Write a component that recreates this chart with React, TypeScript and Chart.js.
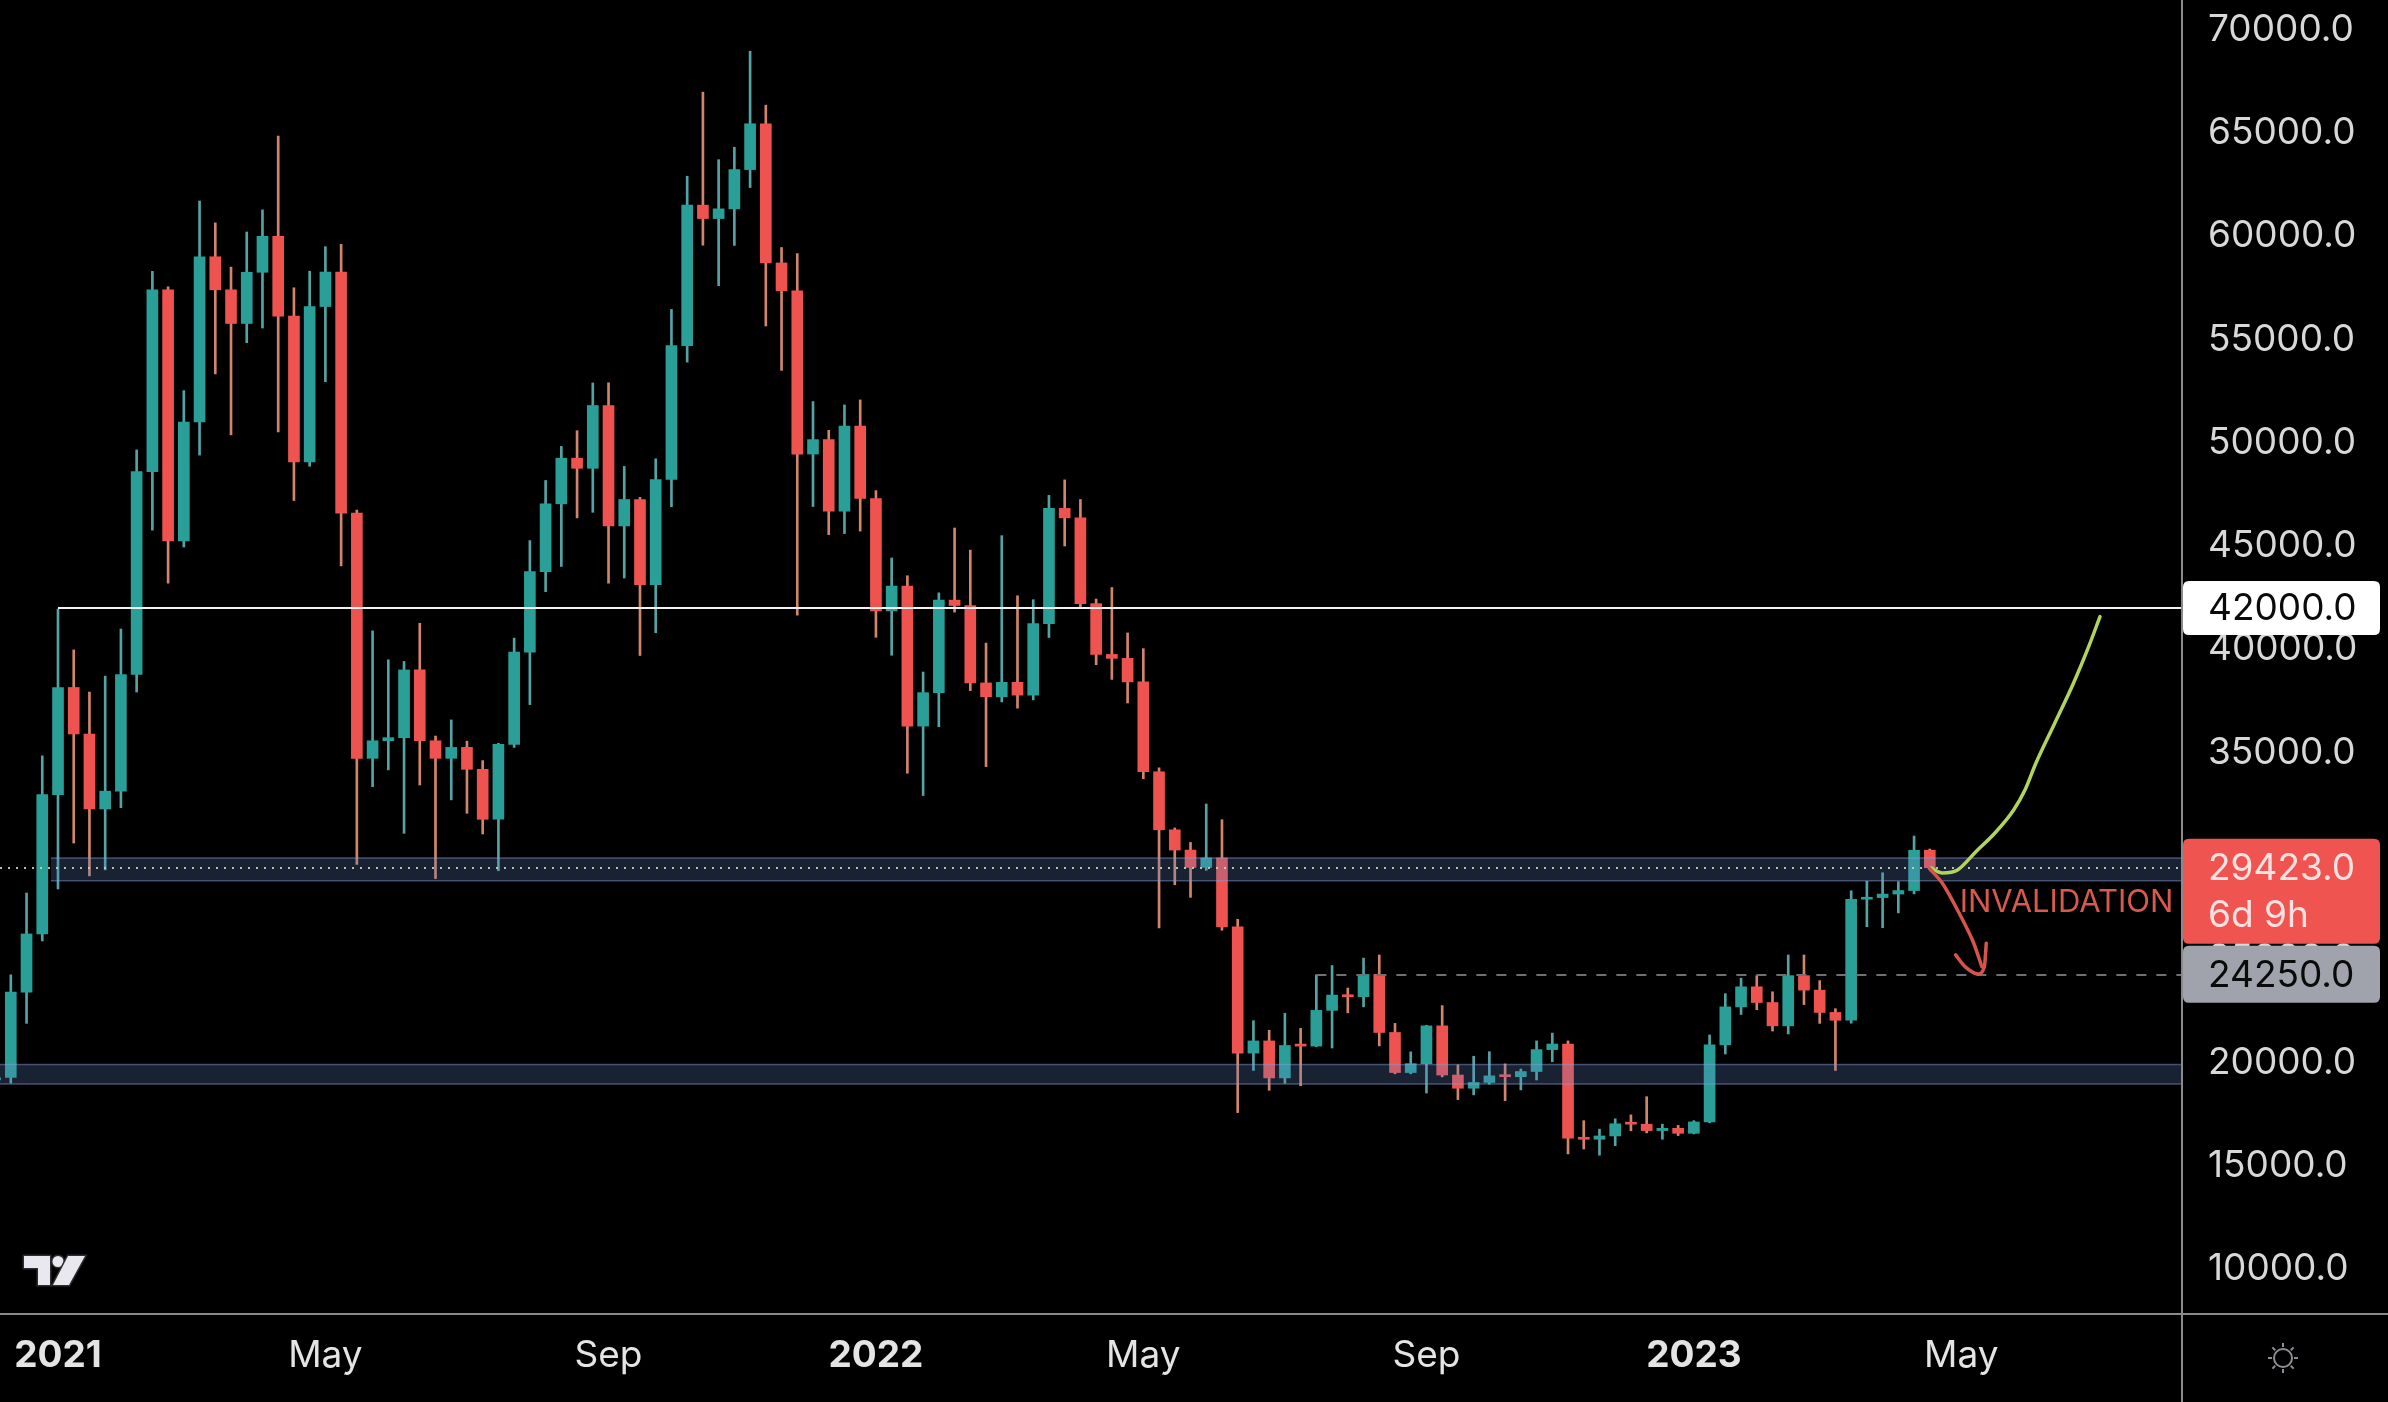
import React, { useEffect, useRef } from "react";
import { Chart, registerables } from "chart.js";

Chart.register(...registerables);

// ---------- DATA ----------
const ANCHOR_WEEK = "2020-12-14";

const weekStarts = [
  "2020-12-07", "2020-12-14", "2020-12-21", "2020-12-28",
  "2021-01-04", "2021-01-11", "2021-01-18", "2021-01-25", "2021-02-01", "2021-02-08", "2021-02-15", "2021-02-22",
  "2021-03-01", "2021-03-08", "2021-03-15", "2021-03-22", "2021-03-29", "2021-04-05", "2021-04-12", "2021-04-19",
  "2021-04-26", "2021-05-03", "2021-05-10", "2021-05-17", "2021-05-24", "2021-05-31", "2021-06-07", "2021-06-14",
  "2021-06-21", "2021-06-28", "2021-07-05", "2021-07-12", "2021-07-19", "2021-07-26", "2021-08-02", "2021-08-09",
  "2021-08-16", "2021-08-23", "2021-08-30", "2021-09-06", "2021-09-13", "2021-09-20", "2021-09-27", "2021-10-04",
  "2021-10-11", "2021-10-18", "2021-10-25", "2021-11-01", "2021-11-08", "2021-11-15", "2021-11-22", "2021-11-29",
  "2021-12-06", "2021-12-13", "2021-12-20", "2021-12-27",
  "2022-01-03", "2022-01-10", "2022-01-17", "2022-01-24", "2022-01-31", "2022-02-07", "2022-02-14", "2022-02-21",
  "2022-02-28", "2022-03-07", "2022-03-14", "2022-03-21", "2022-03-28", "2022-04-04", "2022-04-11", "2022-04-18",
  "2022-04-25", "2022-05-02", "2022-05-09", "2022-05-16", "2022-05-23", "2022-05-30", "2022-06-06", "2022-06-13",
  "2022-06-20", "2022-06-27", "2022-07-04", "2022-07-11", "2022-07-18", "2022-07-25", "2022-08-01", "2022-08-08",
  "2022-08-15", "2022-08-22", "2022-08-29", "2022-09-05", "2022-09-12", "2022-09-19", "2022-09-26", "2022-10-03",
  "2022-10-10", "2022-10-17", "2022-10-24", "2022-10-31", "2022-11-07", "2022-11-14", "2022-11-21", "2022-11-28",
  "2022-12-05", "2022-12-12", "2022-12-19", "2022-12-26",
  "2023-01-02", "2023-01-09", "2023-01-16", "2023-01-23", "2023-01-30", "2023-02-06", "2023-02-13", "2023-02-20",
  "2023-02-27", "2023-03-06", "2023-03-13", "2023-03-20", "2023-03-27", "2023-04-03", "2023-04-10", "2023-04-17",
];

const opens = [
  19150, 19270, 23400, 26220,
  32960, 38150, 35900, 32270, 33130, 38780, 48600, 57400,
  45240, 51000, 59000, 57400, 55770, 58250, 59990, 56130,
  49070, 56590, 58260, 46590, 34720, 35570, 35720, 39000,
  35570, 34720, 35250, 34190, 31770, 35400, 39860, 43760,
  47040, 49250, 48760, 51800, 45970, 47250, 43130, 48220,
  54700, 61500, 60850, 61320, 63220, 65440, 58700, 57350,
  49450, 50150, 46690, 50800,
  47300, 41860, 43060, 36280, 37900, 42380, 42120, 38370,
  37700, 38400, 37780, 41240, 46820, 46360, 42210, 39750,
  39560, 38420, 34070, 31260, 30280, 29440, 29900, 26560,
  20450, 21040, 19250, 20820, 20790, 22520, 23260, 23180,
  24260, 21450, 19510, 19940, 21770, 19390, 18750, 19030,
  19350, 19310, 19560, 20620, 20890, 16330, 16280, 16440,
  17030, 17010, 16700, 16810,
  16570, 17120, 20850, 22690, 23660, 22900, 21770, 24200,
  23500, 22420, 22040, 27900, 27980, 28150, 28320, 30270,
];

const highs = [
  19420, 24240, 28200, 34840,
  41950, 39970, 37930, 38700, 40980, 49650, 58300, 57550,
  52520, 61700, 60640, 58500, 60200, 61270, 64840, 57500,
  58300, 59490, 59600, 46740, 40890, 39490, 39410, 41260,
  35800, 36580, 35550, 34610, 35450, 40540, 45260, 48170,
  49820, 50580, 52890, 52900, 48850, 47350, 49220, 56450,
  62900, 66970, 63700, 64300, 68950, 66340, 59450, 59150,
  51990, 50600, 51830, 52070,
  47680, 44420, 43560, 38900, 42730, 45870, 44800, 40300,
  45500, 42590, 42400, 47450, 48200, 47250, 42430, 42990,
  40790, 40030, 34260, 31350, 30650, 32510, 31750, 26930,
  22020, 21560, 22380, 21650, 24240, 24690, 23600, 25050,
  25200, 21890, 20510, 21800, 22750, 19880, 20300, 20520,
  19930, 19680, 21040, 21420, 21040, 17180, 16770, 17270,
  17460, 18340, 17010, 16950,
  17180, 21330, 23330, 24080, 24200, 23420, 25200, 25200,
  23960, 22600, 28310, 28770, 29180, 28750, 30960, 30330,
];

const lows = [
  17650, 19000, 21890, 25880,
  28400, 30620, 29030, 29320, 32330, 37930, 45770, 43200,
  44950, 49400, 53330, 50380, 54840, 55550, 50520, 47200,
  48860, 52950, 44030, 29590, 33350, 34160, 31090, 33430,
  28900, 32710, 32060, 31060, 29280, 35250, 37320, 42790,
  44010, 46360, 46630, 43200, 43450, 39700, 40800, 46900,
  53900, 59560, 57600, 59550, 62350, 55650, 53500, 41650,
  46910, 45550, 45600, 45720,
  40580, 39710, 34000, 32920, 36250, 41800, 38000, 34320,
  37450, 37150, 37550, 40570, 45000, 42000, 39250, 38540,
  37400, 33730, 26510, 28600, 27990, 29300, 26400, 17570,
  19610, 18650, 18990, 18870, 20760, 20700, 22400, 22690,
  20800, 19450, 19450, 18520, 19300, 18200, 18430, 18950,
  18150, 18670, 19150, 20030, 15570, 15810, 15510, 15970,
  16690, 16590, 16280, 16460,
  16540, 17080, 20410, 22320, 22550, 21520, 21380, 22800,
  21890, 19610, 21900, 26570, 26520, 27240, 28160, 29400,
];

const closes = [
  19270, 23400, 26220, 32960,
  38150, 35900, 32270, 33130, 38780, 48600, 57400, 45240,
  51000, 59000, 57400, 55770, 58250, 59990, 56130, 49070,
  56590, 58260, 46590, 34720, 35570, 35720, 39000, 35570,
  34720, 35250, 34190, 31770, 35400, 39860, 43760, 47040,
  49250, 48760, 51800, 45970, 47250, 43130, 48220, 54700,
  61500, 60850, 61320, 63220, 65440, 58700, 57350, 49450,
  50150, 46690, 50800, 47300,
  41860, 43060, 36280, 37900, 42380, 42120, 38370, 37700,
  38400, 37780, 41240, 46820, 46360, 42210, 39750, 39560,
  38420, 34070, 31260, 30280, 29440, 29900, 26560, 20450,
  21040, 19250, 20820, 20790, 22520, 23260, 23180, 24260,
  21450, 19510, 19940, 21770, 19390, 18750, 19030, 19350,
  19310, 19560, 20620, 20890, 16330, 16280, 16440, 17030,
  17010, 16700, 16810, 16570,
  17120, 20850, 22690, 23660, 22900, 21770, 24200, 23500,
  22420, 22040, 27900, 27980, 28150, 28320, 30270, 29423,
];

const xTickDates = ["2021-01-04", "2021-05-03", "2021-09-06", "2022-01-03", "2022-05-02", "2022-09-05", "2023-01-02", "2023-05-01"];
const xTickLabels = ["2021", "May", "Sep", "2022", "May", "Sep", "2023", "May"];
const yTickValues = [10000, 15000, 20000, 25000, 30000, 35000, 40000, 45000, 50000, 55000, 60000, 65000, 70000];

const viewWeeks = [-0.687, 137.97];
const viewPrices = [7870, 71430];

// support zones (price low / high and the week they start from)
const zoneLows = [18950, 28800];
const zoneHighs = [19900, 29900];
const zoneStartWeeks = [-2, 2.55];

const resistanceLevel = 42000;
const resistanceStartWeek = 3;
const targetLevel = 24250;
const targetStartWeek = 83;
const lastPrice = 29423;
const countdownText = "6d 9h";

// hand-drawn annotations (week index, price)
const bullPathWeeks = [122.07, 122.8, 123.76, 124.93, 126.14, 127.33, 128.05, 128.75, 129.95, 131.14, 132.1, 132.82];
const bullPathPrices = [29414, 29172, 29317, 30203, 31108, 32222, 33190, 34497, 36433, 38369, 40126, 41578];
const bearShaftWeeks = [121.97, 122.8, 123.76, 124.71, 125.31];
const bearShaftPrices = [29400, 28674, 27381, 25929, 24637];
const bearHeadWeeks = [123.64, 124.24, 125.07, 125.47, 125.59];
const bearHeadPrices = [25203, 24637, 24284, 24637, 25769];
const noteText = "INVALIDATION";
const noteWeek = 123.9;
const notePrice = 27720;

// ---------- STYLE ----------
const UP = "#2a9f97";
const DOWN = "#ef5350";
const UP_WICK = "#54a4a6";
const DOWN_WICK = "#d3856b";
const FONT = "Inter, Roboto, 'DejaVu Sans', sans-serif";

const toWeek = (d: string) =>
  (Date.parse(d + "T00:00:00Z") - Date.parse(ANCHOR_WEEK + "T00:00:00Z")) / (7 * 86400000);

function drawOverlays(chart: any) {
  const { ctx, chartArea: a, scales } = chart;
  const xs = scales.x;
  const ys = scales.y;
  ctx.save();
  ctx.beginPath();
  ctx.rect(a.left, a.top, a.right - a.left, a.bottom - a.top);
  ctx.clip();

  // zones
  for (let i = 0; i < zoneLows.length; i++) {
    const top = ys.getPixelForValue(zoneHighs[i]);
    const bot = ys.getPixelForValue(zoneLows[i]);
    const left = Math.max(a.left, xs.getPixelForValue(zoneStartWeeks[i]));
    ctx.fillStyle = "rgba(98, 130, 196, 0.26)";
    ctx.fillRect(left, top, a.right - left, bot - top);
    ctx.strokeStyle = "rgba(140, 160, 215, 0.45)";
    ctx.lineWidth = 1.5;
    ctx.beginPath();
    ctx.moveTo(left, top);
    ctx.lineTo(a.right, top);
    ctx.moveTo(left, bot);
    ctx.lineTo(a.right, bot);
    ctx.stroke();
  }

  // resistance line
  const ry = Math.round(ys.getPixelForValue(resistanceLevel));
  ctx.strokeStyle = "#f2f2f2";
  ctx.lineWidth = 2;
  ctx.setLineDash([]);
  ctx.beginPath();
  ctx.moveTo(xs.getPixelForValue(resistanceStartWeek), ry);
  ctx.lineTo(a.right, ry);
  ctx.stroke();

  // target dashed line
  const ty = Math.round(ys.getPixelForValue(targetLevel));
  ctx.strokeStyle = "#707177";
  ctx.lineWidth = 2;
  ctx.setLineDash([10, 10]);
  ctx.beginPath();
  ctx.moveTo(xs.getPixelForValue(targetStartWeek), ty);
  ctx.lineTo(a.right, ty);
  ctx.stroke();

  // last price dotted line
  const py = Math.round(ys.getPixelForValue(lastPrice));
  ctx.strokeStyle = "rgba(205, 212, 172, 0.9)";
  ctx.lineWidth = 2;
  ctx.setLineDash([2, 6]);
  ctx.beginPath();
  ctx.moveTo(a.left, py);
  ctx.lineTo(a.right, py);
  ctx.stroke();
  ctx.restore();
}

function roundRect(ctx: CanvasRenderingContext2D, x: number, y: number, w: number, h: number, r: number) {
  ctx.beginPath();
  ctx.moveTo(x + r, y);
  ctx.lineTo(x + w - r, y);
  ctx.quadraticCurveTo(x + w, y, x + w, y + r);
  ctx.lineTo(x + w, y + h - r);
  ctx.quadraticCurveTo(x + w, y + h, x + w - r, y + h);
  ctx.lineTo(x + r, y + h);
  ctx.quadraticCurveTo(x, y + h, x, y + h - r);
  ctx.lineTo(x, y + r);
  ctx.quadraticCurveTo(x, y, x + r, y);
  ctx.closePath();
}

let overlaysDrawn = false;

const overlayPlugin = {
  id: "tvOverlay",
  beforeDraw(chart: any) {
    const { ctx, width, height } = chart;
    ctx.save();
    ctx.fillStyle = "#000000";
    ctx.fillRect(0, 0, width, height);
    ctx.restore();
    overlaysDrawn = false;
  },
  beforeDatasetDraw(chart: any, args: any) {
    if (overlaysDrawn) return;
    const ds = chart.data.datasets[args.index];
    if (ds.type === "line") {
      drawOverlays(chart);
      overlaysDrawn = true;
    }
  },
  afterDatasetsDraw(chart: any) {
    if (!overlaysDrawn) {
      drawOverlays(chart);
      overlaysDrawn = true;
    }
  },
  afterDraw(chart: any) {
    const { ctx, chartArea: a, scales, width, height } = chart;
    const xs = scales.x;
    const ys = scales.y;
    ctx.save();

    // note text
    ctx.font = `31px ${FONT}`;
    ctx.fillStyle = "#d8594d";
    ctx.textAlign = "left";
    ctx.textBaseline = "middle";
    ctx.fillText(noteText, xs.getPixelForValue(noteWeek), ys.getPixelForValue(notePrice));

    // separators
    ctx.strokeStyle = "#8a8a8a";
    ctx.lineWidth = 2;
    ctx.beginPath();
    ctx.moveTo(a.right + 1, 0);
    ctx.lineTo(a.right + 1, height);
    ctx.moveTo(0, a.bottom + 1);
    ctx.lineTo(width, a.bottom + 1);
    ctx.stroke();

    const bx = a.right + 2;
    const bw = 197;
    const tx = a.right + 27;
    ctx.font = `37px ${FONT}`;
    ctx.textBaseline = "middle";
    ctx.textAlign = "left";

    // resistance label
    const ry = ys.getPixelForValue(resistanceLevel);
    ctx.fillStyle = "#ffffff";
    roundRect(ctx, bx, ry - 27, bw, 54, 6);
    ctx.fill();
    ctx.fillStyle = "#0a0a0a";
    ctx.fillText(resistanceLevel.toFixed(1), tx, ry + 1);

    // target label (drawn first so the last-price box overlaps cleanly)
    const ty = ys.getPixelForValue(targetLevel);
    ctx.fillStyle = "#a0a3ab";
    roundRect(ctx, bx, ty - 29, bw, 57, 6);
    ctx.fill();
    ctx.fillStyle = "#0a0a0a";
    ctx.fillText(targetLevel.toFixed(1), tx, ty + 1);

    // last price label
    const py = ys.getPixelForValue(lastPrice);
    ctx.fillStyle = "#f05451";
    roundRect(ctx, bx, py - 29, bw, 105, 6);
    ctx.fill();
    ctx.fillStyle = "#ffe3e3";
    ctx.fillText(lastPrice.toFixed(1), tx, py + 1);
    ctx.fillText(countdownText, tx, py + 48);

    // TradingView logo
    ctx.fillStyle = "#e8e8ee";
    ctx.strokeStyle = "#2c2c33";
    ctx.lineWidth = 3;
    ctx.beginPath();
    ctx.moveTo(24, 1256);
    ctx.lineTo(50, 1256);
    ctx.lineTo(50, 1285);
    ctx.lineTo(38, 1285);
    ctx.lineTo(38, 1268);
    ctx.lineTo(24, 1268);
    ctx.closePath();
    ctx.stroke();
    ctx.fill();
    ctx.beginPath();
    ctx.arc(58, 1261.5, 5.5, 0, Math.PI * 2);
    ctx.stroke();
    ctx.fill();
    ctx.beginPath();
    ctx.moveTo(68, 1256);
    ctx.lineTo(85, 1256);
    ctx.lineTo(69, 1285);
    ctx.lineTo(53, 1285);
    ctx.closePath();
    ctx.stroke();
    ctx.fill();

    // sun icon
    const cx = a.right + 102;
    const cy = a.bottom + 45;
    ctx.strokeStyle = "#8e8e96";
    ctx.lineWidth = 2;
    ctx.beginPath();
    ctx.arc(cx, cy, 9, 0, Math.PI * 2);
    ctx.stroke();
    for (let k = 0; k < 8; k++) {
      const ang = (k * Math.PI) / 4;
      ctx.beginPath();
      ctx.moveTo(cx + Math.cos(ang) * 11, cy + Math.sin(ang) * 11);
      ctx.lineTo(cx + Math.cos(ang) * 15, cy + Math.sin(ang) * 15);
      ctx.stroke();
    }
    ctx.restore();
  },
};

export default function App() {
  const ref = useRef<HTMLCanvasElement | null>(null);

  useEffect(() => {
    document.body.style.margin = "0";
    document.body.style.background = "#000";
    const canvas = ref.current;
    if (!canvas) return;

    const xs = weekStarts.map(toWeek);
    const bodies = xs.map((x, i) => ({ x, y: [opens[i], closes[i]] }));
    const wicks = xs.map((x, i) => ({ x, y: [lows[i], highs[i]] }));
    const bodyColors = xs.map((_, i) => (closes[i] >= opens[i] ? UP : DOWN));
    const wickColors = xs.map((_, i) => (closes[i] >= opens[i] ? UP_WICK : DOWN_WICK));
    const bull = bullPathWeeks.map((x, i) => ({ x, y: bullPathPrices[i] }));
    const bearShaft = bearShaftWeeks.map((x, i) => ({ x, y: bearShaftPrices[i] }));
    const bearHead = bearHeadWeeks.map((x, i) => ({ x, y: bearHeadPrices[i] }));
    const tickWeeks = xTickDates.map(toWeek);

    const zeroPad = (s: any) => {
      s.paddingTop = 0;
      s.paddingBottom = 0;
      s.paddingLeft = 0;
      s.paddingRight = 0;
    };

    const chart = new Chart(canvas, {
      type: "bar",
      data: {
        datasets: [
          {
            type: "bar",
            data: bodies as any,
            backgroundColor: bodyColors,
            borderWidth: 0,
            barThickness: 11,
            grouped: false,
            minBarLength: 2,
            order: 10,
          } as any,
          {
            type: "bar",
            data: wicks as any,
            backgroundColor: wickColors,
            borderWidth: 0,
            barThickness: 2,
            grouped: false,
            order: 11,
          } as any,
          {
            type: "line",
            data: bull as any,
            borderColor: "#b2d35c",
            borderWidth: 3.5,
            pointRadius: 0,
            fill: false,
            cubicInterpolationMode: "monotone",
            borderCapStyle: "round",
            order: 2,
          } as any,
          {
            type: "line",
            data: bearShaft as any,
            borderColor: "#d8544a",
            borderWidth: 3.5,
            pointRadius: 0,
            fill: false,
            tension: 0.3,
            borderCapStyle: "round",
            order: 1,
          } as any,
          {
            type: "line",
            data: bearHead as any,
            borderColor: "#d8544a",
            borderWidth: 3.5,
            pointRadius: 0,
            fill: false,
            cubicInterpolationMode: "monotone",
            borderCapStyle: "round",
            order: 0,
          } as any,
        ],
      },
      options: {
        responsive: false,
        maintainAspectRatio: false,
        animation: false,
        devicePixelRatio: 1,
        events: [],
        layout: { padding: 0 },
        plugins: { legend: { display: false }, tooltip: { enabled: false } },
        scales: {
          x: {
            type: "linear",
            position: "bottom",
            min: viewWeeks[0],
            max: viewWeeks[1],
            offset: false,
            grid: { display: false, drawTicks: false },
            border: { display: false },
            afterBuildTicks: (s: any) => {
              s.ticks = tickWeeks.map((v) => ({ value: v }));
            },
            afterFit: (s: any) => {
              s.height = 89;
              zeroPad(s);
            },
            ticks: {
              autoSkip: false,
              maxRotation: 0,
              minRotation: 0,
              padding: 21,
              color: "#e4e4e4",
              font: (c: any) => ({
                family: FONT,
                size: 37,
                weight: /^\d{4}$/.test(xTickLabels[c.index] || "") ? "bold" : "normal",
              }),
              callback: (_v: any, i: number) => xTickLabels[i],
            },
          },
          y: {
            type: "linear",
            position: "right",
            min: viewPrices[0],
            max: viewPrices[1],
            grid: { display: false, drawTicks: false },
            border: { display: false },
            afterBuildTicks: (s: any) => {
              s.ticks = yTickValues.map((v) => ({ value: v }));
            },
            afterFit: (s: any) => {
              s.width = 207;
              zeroPad(s);
            },
            ticks: {
              padding: 27,
              color: "#d8d8d8",
              font: { family: FONT, size: 37 },
              callback: (v: any) => Number(v).toFixed(1),
            },
          },
        },
      } as any,
      plugins: [overlayPlugin],
    });

    return () => chart.destroy();
  }, []);

  return (
    <div style={{ position: "fixed", left: 0, top: 0, width: 2388, height: 1402, background: "#000" }}>
      <canvas ref={ref} width={2388} height={1402} style={{ width: 2388, height: 1402, display: "block" }} />
    </div>
  );
}
